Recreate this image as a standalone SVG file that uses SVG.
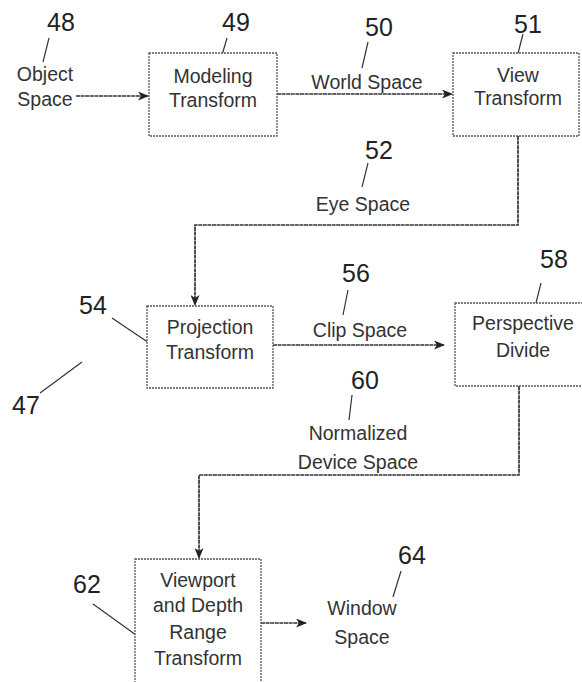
<svg xmlns="http://www.w3.org/2000/svg" width="582" height="682" viewBox="0 0 582 682">
<defs>
<marker id="ah" markerWidth="11" markerHeight="9" refX="10" refY="4.5" orient="auto" markerUnits="userSpaceOnUse">
<path d="M0,0 L11,4.5 L0,9 L3,4.5 Z" fill="#222"/>
</marker>
<style>
.box{fill:#fff;stroke:#555;stroke-width:1.3;stroke-dasharray:2 1}
.con{fill:none;stroke:#333;stroke-width:1.7;stroke-dasharray:4 0.6}
.lead{stroke:#333;stroke-width:1.2;fill:none}
.t{font-family:"Liberation Sans",Arial,sans-serif;font-size:19.5px;fill:#333;text-anchor:middle}
.n{font-family:"Liberation Sans",Arial,sans-serif;font-size:25px;fill:#222;text-anchor:middle}
</style>
</defs>
<rect width="582" height="682" fill="#fff"/>
<g id="connectors">
<line class="con" x1="76" y1="96" x2="148" y2="96" marker-end="url(#ah)"/>
<line class="con" x1="277" y1="94" x2="452" y2="94" marker-end="url(#ah)"/>
<polyline class="con" points="518,136 518,225 195,225 195,305" marker-end="url(#ah)"/>
<line class="con" x1="273" y1="345" x2="444" y2="345" marker-end="url(#ah)"/>
<polyline class="con" points="519,386 519,475 199,475 199,558" marker-end="url(#ah)"/>
<line class="con" x1="261" y1="623" x2="306" y2="623" marker-end="url(#ah)"/>
</g>
<g id="leaders">
<line class="lead" x1="49" y1="38" x2="43" y2="62"/>
<line class="lead" x1="227" y1="38" x2="220" y2="62"/>
<line class="lead" x1="368" y1="42" x2="362" y2="68"/>
<line class="lead" x1="523" y1="34" x2="515" y2="65"/>
<line class="lead" x1="368" y1="163" x2="362" y2="187"/>
<line class="lead" x1="112" y1="318" x2="155" y2="347"/>
<line class="lead" x1="40" y1="393" x2="82" y2="362"/>
<line class="lead" x1="348" y1="290" x2="343" y2="315"/>
<line class="lead" x1="541" y1="283" x2="535" y2="307"/>
<line class="lead" x1="352" y1="395" x2="349" y2="420"/>
<line class="lead" x1="401" y1="571" x2="393" y2="597"/>
<line class="lead" x1="93" y1="604" x2="143" y2="640"/>
</g>
<g id="n47"><text class="n" x="26" y="414">47</text></g>
<g id="n48"><text class="n" x="61" y="31">48</text><text class="t" x="45" y="81">Object</text><text class="t" x="45" y="106">Space</text></g>
<g id="n49"><rect class="box" x="149" y="53" width="128" height="83"/><text class="t" x="213" y="83">Modeling</text><text class="t" x="213" y="107">Transform</text><text class="n" x="236" y="31">49</text></g>
<g id="n50"><text class="n" x="379" y="36">50</text><text class="t" x="367" y="89">World Space</text></g>
<g id="n51"><rect class="box" x="453" y="53" width="126" height="83"/><text class="t" x="518" y="82">View</text><text class="t" x="518" y="105">Transform</text><text class="n" x="528" y="33">51</text></g>
<g id="n52"><text class="n" x="379" y="159">52</text><text class="t" x="363" y="211">Eye Space</text></g>
<g id="n54"><rect class="box" x="147" y="306" width="126" height="82"/><text class="t" x="210" y="334">Projection</text><text class="t" x="210" y="359">Transform</text><text class="n" x="93" y="314">54</text></g>
<g id="n56"><text class="n" x="356" y="282">56</text><text class="t" x="360" y="337">Clip Space</text></g>
<g id="n58"><rect class="box" x="455" y="303" width="140" height="83"/><text class="t" x="523" y="330">Perspective</text><text class="t" x="523" y="357">Divide</text><text class="n" x="554" y="268">58</text></g>
<g id="n60"><text class="n" x="365" y="389">60</text><text class="t" x="358" y="440">Normalized</text><text class="t" x="358" y="469">Device Space</text></g>
<g id="n62"><rect class="box" x="135" y="559" width="126" height="140"/><text class="t" x="198" y="587">Viewport</text><text class="t" x="198" y="612">and Depth</text><text class="t" x="198" y="639">Range</text><text class="t" x="198" y="665">Transform</text><text class="n" x="87" y="593">62</text></g>
<g id="n64"><text class="n" x="412" y="564">64</text><text class="t" x="362" y="615">Window</text><text class="t" x="362" y="644">Space</text></g>
</svg>
